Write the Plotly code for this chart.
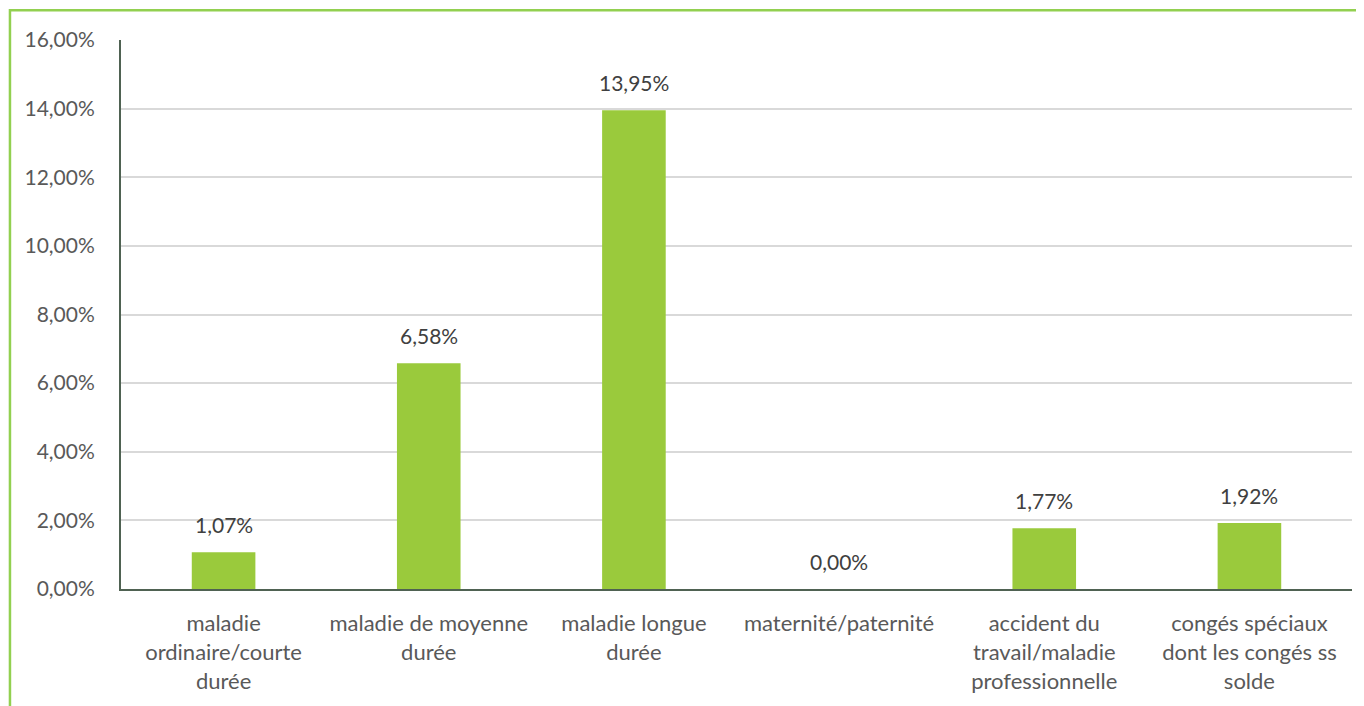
import plotly.graph_objects as go

categories = [
    "maladie<br>ordinaire/courte<br>durée",
    "maladie de moyenne<br>durée",
    "maladie longue<br>durée",
    "maternité/paternité",
    "accident du<br>travail/maladie<br>professionnelle",
    "congés spéciaux<br>dont les congés ss<br>solde",
]
values = [0.0107, 0.0658, 0.1395, 0.0, 0.0177, 0.0192]
labels = ["1,07%", "6,58%", "13,95%", "0,00%", "1,77%", "1,92%"]
tick_vals = [0, 0.02, 0.04, 0.06, 0.08, 0.10, 0.12, 0.14, 0.16]

font_family = "Lato, Open Sans, sans-serif"

fig = go.Figure(go.Bar(
    x=categories,
    y=values,
    marker=dict(color="#9ACA3C", line=dict(width=0)),
    hoverinfo="x+y",
))

annotations = [
    dict(x=c, y=v, xref="x", yref="y", text=t, showarrow=False,
         yanchor="bottom", yshift=13,
         font=dict(family=font_family, size=21, color="#404040"))
    for c, v, t in zip(categories, values, labels)
]

fig.update_layout(
    width=1356, height=698,
    margin=dict(l=113, r=12, t=32, b=115),
    paper_bgcolor="white", plot_bgcolor="white",
    separators=", ",
    bargap=0.69,
    showlegend=False,
    font=dict(family=font_family, size=21, color="#595959"),
    annotations=annotations,
    shapes=[dict(
        type="rect", xref="paper", yref="paper",
        x0=-0.0902, x1=1.05, y0=-0.4, y1=1.0544,
        line=dict(color="#92D050", width=2.5),
        fillcolor="rgba(0,0,0,0)", layer="below",
    )],
)
fig.update_yaxes(
    range=[0, 0.16], tickvals=tick_vals, tickformat=".2%",
    showgrid=True, gridcolor="#D9D9D9", gridwidth=2,
    showline=True, linecolor="#4F6252", linewidth=2,
    ticks="", zeroline=False, ticklabelstandoff=20,
    tickfont=dict(family=font_family, size=21, color="#595959"),
)
fig.update_xaxes(
    showline=True, linecolor="#4F6252", linewidth=2, ticks="",
    ticklabelstandoff=14,
    tickfont=dict(family=font_family, size=22, color="#595959"),
)

fig.write_html("out.html")
